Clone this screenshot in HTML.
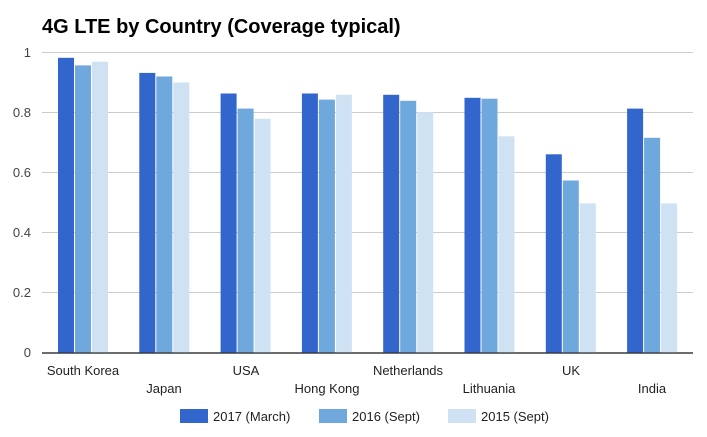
<!DOCTYPE html>
<html><head><meta charset="utf-8"><style>
html,body{margin:0;padding:0;background:#fff}
svg{display:block;font-family:"Liberation Sans",Arial,sans-serif}
</style></head><body>
<svg width="707" height="437" viewBox="0 0 707 437" xmlns="http://www.w3.org/2000/svg">
<text x="42" y="33" font-size="20" font-weight="bold" fill="#000">4G LTE by Country (Coverage typical)</text>
<g stroke="#cccccc" stroke-width="1">
<line x1="42" x2="693" y1="52.5" y2="52.5"/>
<line x1="42" x2="693" y1="112.5" y2="112.5"/>
<line x1="42" x2="693" y1="172.5" y2="172.5"/>
<line x1="42" x2="693" y1="232.5" y2="232.5"/>
<line x1="42" x2="693" y1="292.5" y2="292.5"/>
</g>
<g font-size="13" fill="#444" text-anchor="end">
<text x="31" y="57">1</text>
<text x="31" y="117">0.8</text>
<text x="31" y="177">0.6</text>
<text x="31" y="237">0.4</text>
<text x="31" y="297">0.2</text>
<text x="31" y="357">0</text>
</g>
<g id="bars"></g>
<line x1="42" x2="693" y1="353" y2="353" stroke="#333" stroke-width="1.3"/>
<g font-size="13" fill="#222" text-anchor="middle">
<text x="83" y="375">South Korea</text>
<text x="164" y="393">Japan</text>
<text x="246" y="375">USA</text>
<text x="327" y="393">Hong Kong</text>
<text x="408" y="375">Netherlands</text>
<text x="489" y="393">Lithuania</text>
<text x="571" y="375">UK</text>
<text x="652" y="393">India</text>
</g>
<rect x="180" y="409" width="28" height="14" fill="#3366cc"/>
<text x="213" y="421" font-size="13" fill="#222">2017 (March)</text>
<rect x="319" y="409" width="28" height="14" fill="#6fa8dc"/>
<text x="352" y="421" font-size="13" fill="#222">2016 (Sept)</text>
<rect x="448" y="409" width="28" height="14" fill="#cfe2f3"/>
<text x="481" y="421" font-size="13" fill="#222">2015 (Sept)</text>
<g>
<!-- bars generated below -->
<rect x="58" y="57.8" width="16" height="295.2" fill="#3366cc"/><rect x="75" y="65.4" width="16" height="287.6" fill="#6fa8dc"/><rect x="92" y="61.7" width="16" height="291.3" fill="#cfe2f3"/>
<rect x="139.3" y="72.9" width="16" height="280.1" fill="#3366cc"/><rect x="156.3" y="76.5" width="16" height="276.5" fill="#6fa8dc"/><rect x="173.3" y="82.5" width="16" height="270.5" fill="#cfe2f3"/>
<rect x="220.6" y="93.5" width="16" height="259.5" fill="#3366cc"/><rect x="237.6" y="108.6" width="16" height="244.4" fill="#6fa8dc"/><rect x="254.6" y="118.8" width="16" height="234.2" fill="#cfe2f3"/>
<rect x="301.9" y="93.5" width="16" height="259.5" fill="#3366cc"/><rect x="318.9" y="99.6" width="16" height="253.4" fill="#6fa8dc"/><rect x="335.9" y="94.8" width="16" height="258.2" fill="#cfe2f3"/>
<rect x="383.2" y="94.8" width="16" height="258.2" fill="#3366cc"/><rect x="400.2" y="100.8" width="16" height="252.2" fill="#6fa8dc"/><rect x="417.2" y="112.2" width="16" height="240.8" fill="#cfe2f3"/>
<rect x="464.5" y="97.8" width="16" height="255.2" fill="#3366cc"/><rect x="481.5" y="98.7" width="16" height="254.3" fill="#6fa8dc"/><rect x="498.5" y="136.3" width="16" height="216.7" fill="#cfe2f3"/>
<rect x="545.8" y="154.3" width="16" height="198.7" fill="#3366cc"/><rect x="562.8" y="180.5" width="16" height="172.5" fill="#6fa8dc"/><rect x="579.8" y="203.4" width="16" height="149.6" fill="#cfe2f3"/>
<rect x="627.1" y="108.6" width="16" height="244.4" fill="#3366cc"/><rect x="644.1" y="137.8" width="16" height="215.2" fill="#6fa8dc"/><rect x="661.1" y="203.4" width="16" height="149.6" fill="#cfe2f3"/>
</g>
<line x1="42" x2="693" y1="353" y2="353" stroke="#333" stroke-width="1.3"/>
</svg>
</body></html>
